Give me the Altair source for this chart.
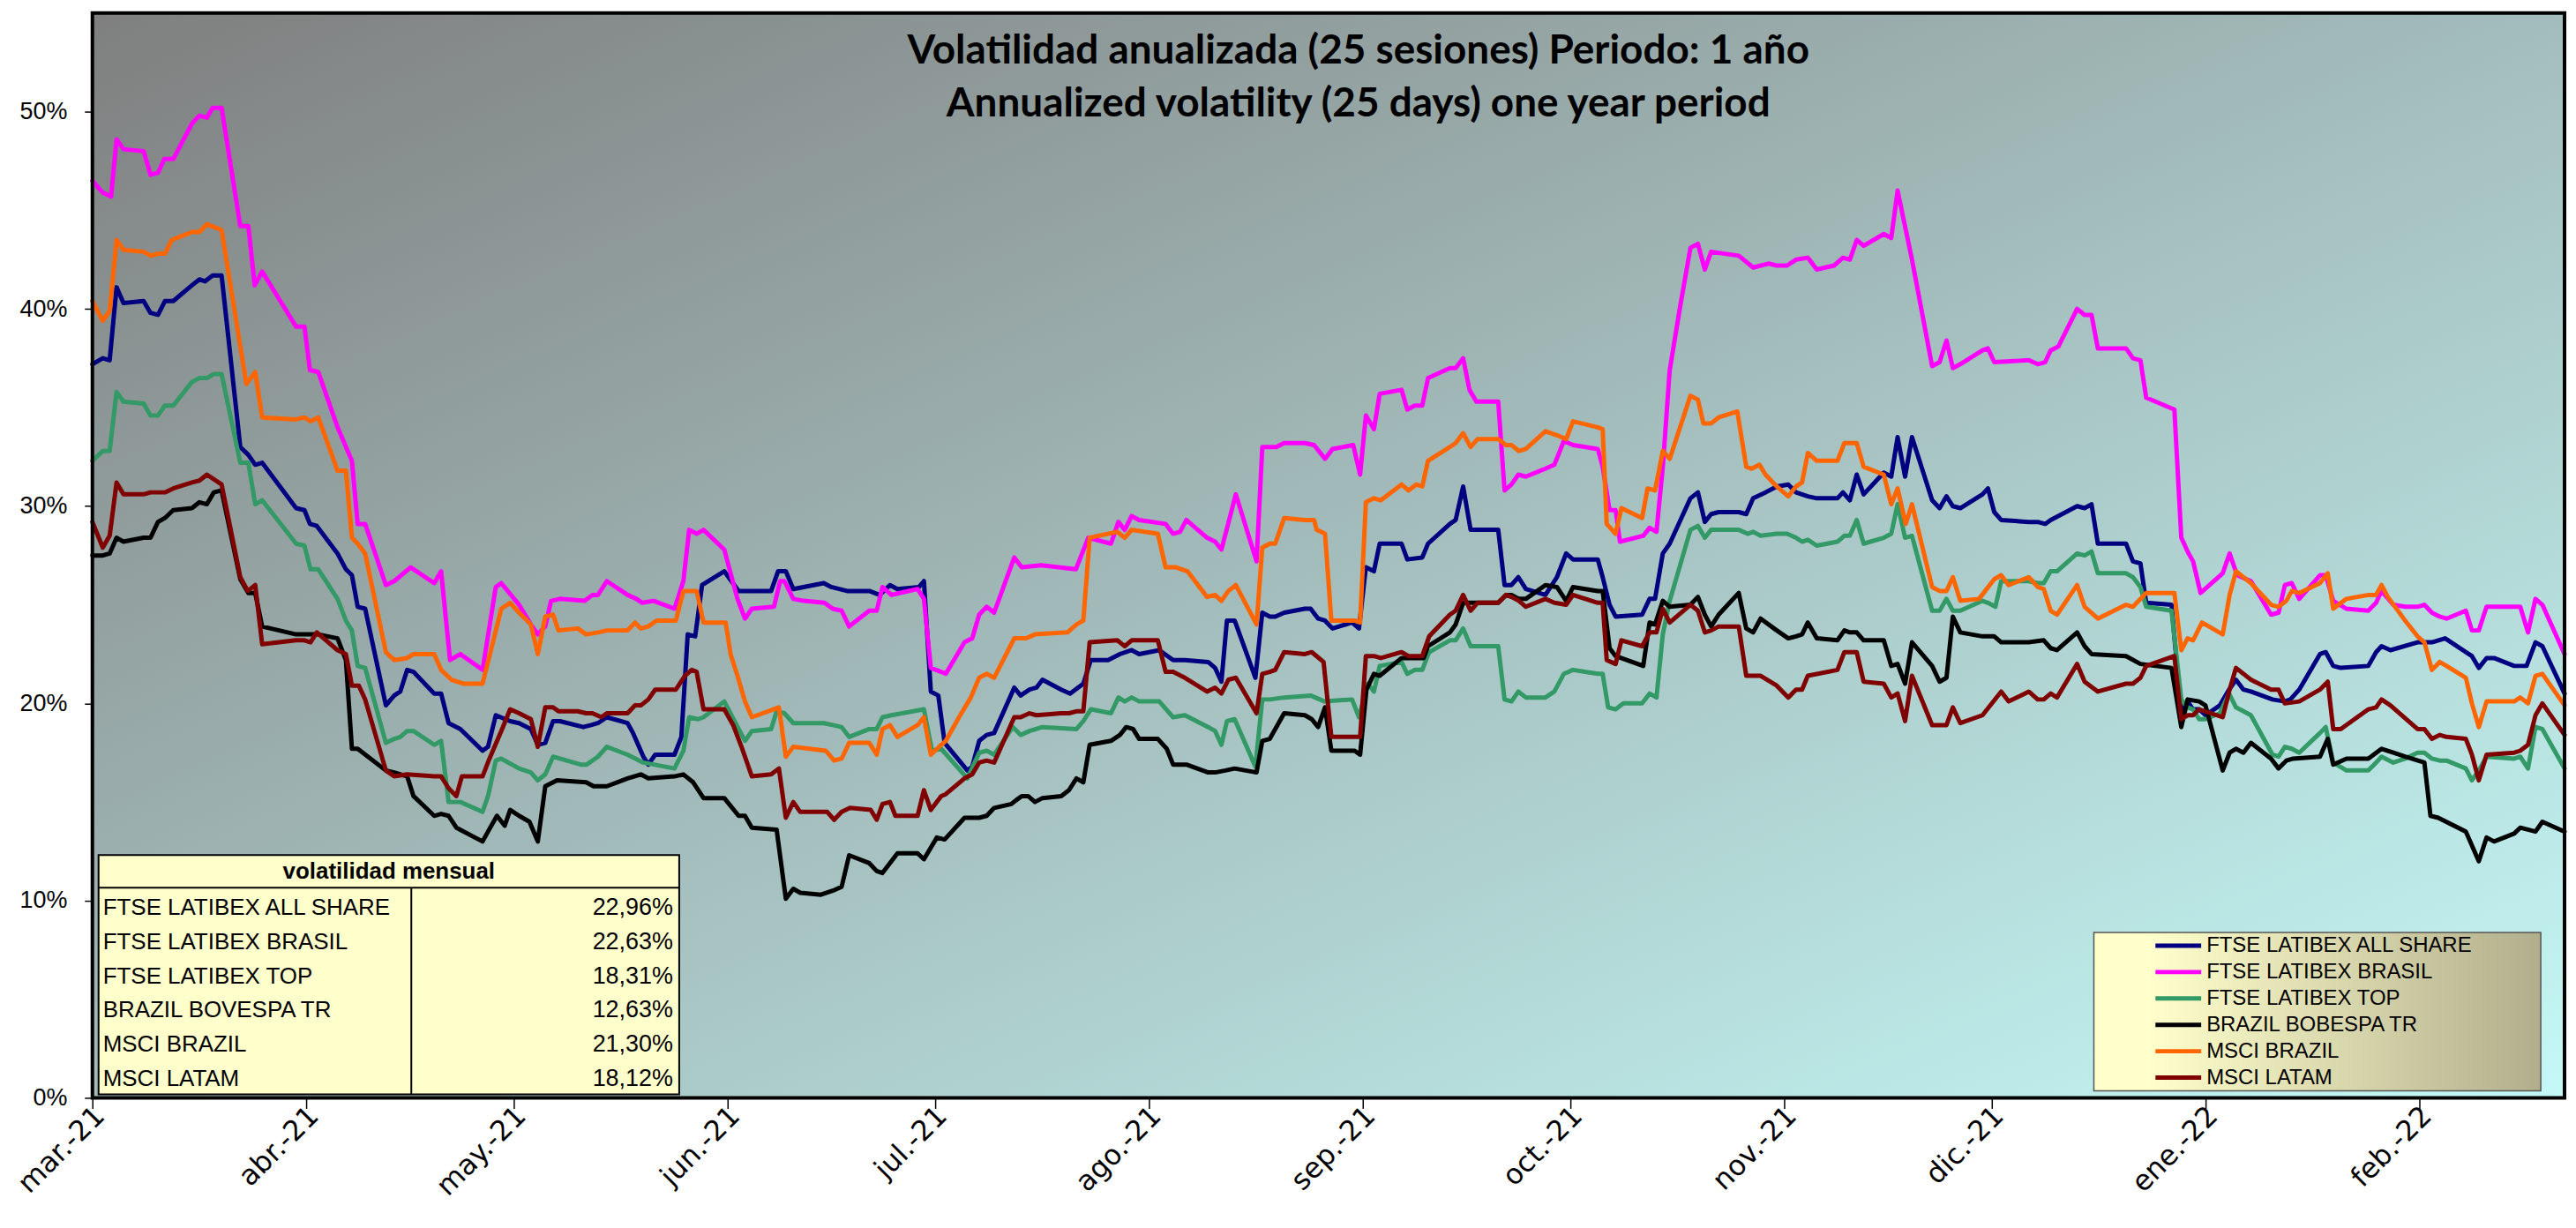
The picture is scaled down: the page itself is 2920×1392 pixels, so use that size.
import json
import altair as alt
import pandas as pd

# ---------------- data (day offset from 2021-03-01, annualized volatility %) ----------------
SERIES = ["FTSE LATIBEX ALL SHARE", "FTSE LATIBEX BRASIL", "FTSE LATIBEX TOP",
          "BRAZIL BOBESPA TR", "MSCI BRAZIL", "MSCI LATAM"]
COLORS = ["#000080", "#FF00FF", "#339966", "#000000", "#FF6600", "#800000"]

ALL_SHARE = [(0,37.2),(1.5,37.5),(2.5,37.4),(3.5,41.1),(4.5,40.3),(7.4,40.4),(8.4,39.8),(9.5,39.7),(10.5,40.4),(11.7,40.4),(14.4,41.2),(15.5,41.5),(16.3,41.4),(17.4,41.7),(18.7,41.7),(21.4,33.0),(22.6,32.6),(23.6,32.1),(24.6,32.2),(29.5,29.9),(30.7,29.8),(31.5,29.1),(32.5,29.0),(35.5,27.6),(36.7,26.8),(37.6,26.5),(38.4,24.9),(39.5,24.8),(42.5,19.9),(43.7,20.4),(44.6,20.6),(45.6,21.7),(46.5,21.6),(49.5,20.5),(50.5,20.5),(51.6,19.0),(53.3,18.7),(56.5,17.6),(57.3,17.8),(58.4,19.4),(60.5,19.1),(61.8,19.0),
 (63.5,18.7),(64.5,17.9),(65.6,18.0),(66.7,19.1),(67.7,19.1),(71.1,18.8),(72.2,18.9),(73.2,19.0),(74.5,19.3),(77.5,19.0),(78.3,18.5),(79.8,17.3),(80.5,16.9),(81.5,17.4),(84.3,17.4),(85.3,18.3),(86.2,23.5),(87.3,23.4),(88.3,26.0),(91.5,26.7),(93.6,25.7),(98.3,25.7),(99.3,26.7),(100.4,26.7),(101.5,25.8),(105.9,26.1),(107.0,25.9),(109.3,25.7),(112.5,25.7),(114.0,25.5),(115.5,26.0),(116.6,25.8),(119.7,25.9),(120.4,26.2),(121.4,20.6),(122.5,20.4),
 (123.4,18.0),(126.7,16.6),(127.4,16.8),(128.4,18.1),(129.5,18.4),(130.6,18.5),(133.5,20.8),(134.4,20.4),(135.7,20.7),(136.7,20.8),(137.6,21.2),(140.3,20.7),(141.6,20.5),(143.5,21.0),(144.6,22.2),(147.1,22.2),(148.8,22.5),(150.5,22.7),(151.6,22.5),(154.5,22.7),(156.5,22.2),(158.2,22.2),(161.6,22.1),(162.6,21.8),(163.5,21.1),(164.3,24.2),(165.4,24.2),(168.4,21.3),(169.4,24.6),(170.5,24.4),(171.3,24.4),(172.6,24.6),(175.6,24.8),(176.4,24.8),(177.5,24.3),(178.5,24.2),(179.6,23.8),(182.4,24.1),(183.4,23.8),
 (184.4,26.9),(185.6,26.7),(186.4,28.1),(189.6,28.1),(190.4,27.3),(192.6,27.4),(193.4,28.1),(196.6,29.1),(197.4,29.3),(198.5,31.0),(199.6,28.8),(203.6,28.8),(204.5,26.0),(205.5,26.0),(206.5,26.4),(207.6,25.8),(210.4,25.5),(212.1,26.4),(213.4,27.6),(214.4,27.3),(218.0,27.3),(218.7,26.4),(219.7,25.0),(220.6,24.4),(224.4,24.5),(225.5,25.3),(226.3,25.3),(227.4,27.6),(228.4,28.1),(231.4,30.4),(232.5,30.7),(233.5,29.2),(234.4,29.6),(235.5,29.7),(238.4,29.7),(239.5,29.6),(240.5,30.4),(242.3,30.7),
 (243.9,31.0),(245.6,31.1),(246.7,30.7),(248.4,30.5),(249.7,30.4),(252.7,30.4),(253.5,30.7),(254.5,30.3),(255.5,31.6),(256.5,30.6),(259.4,31.7),(260.5,31.5),(261.4,33.5),(262.5,31.5),(263.5,33.5),(266.4,30.3),(267.5,29.9),(268.5,30.5),(269.4,30.0),(270.5,29.9),(273.7,30.6),(274.5,30.9),(275.4,29.7),(276.4,29.3),(280.4,29.2),(281.7,29.2),(282.8,29.1),(283.6,29.3),(287.4,30.0),(288.5,29.9),(289.5,30.1),(290.4,28.1),(294.5,28.1),(295.5,27.2),(296.6,27.1),(297.4,25.1),(301.1,25.0),(302.5,19.5),(303.4,20.1),(304.2,19.7),
 (305.1,19.7),(306.0,19.4),(308.1,19.9),(309.4,20.7),(310.4,21.2),(311.5,20.7),(312.6,20.6),(315.7,20.2),(317.5,20.1),(318.3,20.2),(319.6,20.7),(322.6,22.5),(323.4,22.6),(324.5,21.9),(325.6,21.8),(329.6,21.9),(330.7,22.6),(331.5,22.9),(332.8,22.7),(336.7,23.1),(338.8,23.1),(340.7,23.3),(344.6,22.4),(345.6,21.8),(346.7,22.3),(347.8,22.3),(350.7,21.9),(352.5,21.9),(353.8,23.1),(354.8,22.9),(358.0,20.5)]

BRASIL = [(0,46.5),(1.5,45.9),(2.7,45.7),(3.5,48.6),(4.5,48.1),(7.4,48.0),(8.4,46.8),(9.5,46.9),(10.4,47.6),(11.7,47.6),(14.4,49.4),(15.5,49.8),(16.6,49.7),(17.4,50.2),(18.7,50.2),(21.4,44.2),(22.6,44.2),(23.5,41.2),(24.6,41.9),(29.5,39.1),(30.7,39.1),(31.5,36.9),(32.7,36.8),(35.5,34.0),(37.6,32.3),(38.4,29.1),(39.5,29.1),(42.5,26.0),(43.7,26.2),(46.1,26.9),(49.5,26.1),(50.5,26.7),(51.8,22.2),(53.3,22.5),(56.5,21.7),(58.4,25.9),(59.2,26.1),(61.8,25.0),
 (63.5,24.0),(64.5,23.5),(65.6,23.9),(66.4,25.2),(67.7,25.3),(71.3,25.2),(72.4,25.5),(73.2,25.5),(74.5,26.2),(77.5,25.5),(78.8,25.3),(79.6,25.1),(81.3,25.2),(84.3,24.8),(85.6,26.2),(86.4,28.8),(87.5,28.6),(88.5,28.8),(91.5,27.8),(93.4,25.3),(94.5,24.3),(95.5,24.8),(98.7,24.9),(99.6,26.2),(100.2,26.2),(101.5,25.3),(103.0,25.2),(106.0,25.1),(107.2,24.8),(108.5,24.7),(109.6,23.9),(112.5,24.7),(113.6,24.7),(114.4,25.9),(115.7,25.5),(119.5,25.8),(120.4,25.3),(121.4,21.8),(122.9,21.6),
 (123.6,21.5),(126.3,23.1),(127.4,23.3),(128.4,24.5),(129.5,24.9),(130.6,24.6),(133.5,27.4),(134.6,26.9),(137.4,27.0),(142.4,26.8),(144.2,28.4),(147.5,28.1),(148.6,29.2),(149.5,28.8),(150.5,29.5),(151.6,29.3),(155.4,29.1),(156.5,28.6),(157.5,28.7),(158.4,29.3),(161.4,28.4),(162.6,28.2),(163.5,27.8),(165.6,30.6),(168.6,27.2),(169.4,33.0),(171.4,33.0),(172.6,33.2),(175.6,33.2),(176.9,33.1),(178.5,32.4),(179.6,32.9),(182.6,33.1),
 (183.6,31.6),(184.4,34.6),(185.6,33.9),(186.4,35.7),(189.6,35.9),(190.4,34.9),(191.5,35.1),(192.6,35.1),(193.4,36.5),(196.6,37.0),(197.4,37.0),(198.5,37.5),(199.4,35.9),(200.4,35.3),(203.6,35.3),(204.5,30.8),(205.5,31.1),(206.5,31.6),(207.6,31.5),(210.4,31.9),(211.7,32.1),(213.1,33.3),(214.4,33.1),(218.0,32.9),(218.7,32.0),(219.7,29.8),(220.6,29.8),(221.2,28.2),(224.6,28.5),(225.5,28.9),(226.5,28.7),(227.4,32.0),(228.4,36.9),(229.9,40.1),(231.4,43.1),(232.5,43.3),(233.5,42.0),(234.4,42.9),(238.4,42.7),(240.5,42.1),(242.7,42.3),
 (243.9,42.2),(245.4,42.2),(246.7,42.5),(248.4,42.6),(249.7,42.0),(252.2,42.2),(253.5,42.6),(254.5,42.5),(255.5,43.5),(256.5,43.2),(259.4,43.8),(260.5,43.6),(261.4,46.0),(263.5,42.5),(266.4,37.1),(267.5,37.3),(268.5,38.4),(269.4,37.0),(270.5,37.2),(273.7,37.9),(274.5,38.0),(275.4,37.3),(280.4,37.4),(281.7,37.2),(282.8,37.3),(283.6,37.9),(284.7,38.1),(287.4,40.0),(288.5,39.7),(289.5,39.7),(290.4,38.0),(294.5,38.0),(295.5,37.5),(296.6,37.4),(297.4,35.5),(301.5,34.9),(302.5,28.4),(303.4,27.7),(304.2,27.2),(305.3,25.6),
 (308.5,26.6),(309.5,27.6),(310.6,26.5),(312.6,26.2),(315.5,24.5),(316.6,24.6),(317.5,26.0),(318.5,26.1),(319.6,25.3),(322.6,26.5),(323.4,26.5),(324.5,25.2),(326.4,24.8),(329.6,24.7),(330.7,25.1),(331.5,25.7),(333.2,25.0),(334.9,24.9),(336.7,24.9),(337.7,25.0),(338.8,24.6),(339.9,24.4),(340.9,24.3),(343.7,24.7),(344.6,23.7),(345.6,23.7),(346.7,24.9),(351.6,24.9),(352.7,23.6),(353.8,25.3),(354.8,25.0),(358.0,22.5)]

TOP = [(0,32.3),(1.5,32.8),(2.5,32.8),(3.5,35.8),(4.5,35.3),(7.4,35.2),(8.4,34.6),(9.5,34.6),(10.5,35.1),(11.7,35.1),(14.4,36.3),(15.5,36.5),(16.6,36.5),(17.6,36.7),(18.7,36.7),(21.4,32.2),(22.6,32.2),(23.6,30.1),(24.6,30.3),(29.5,28.1),(30.7,28.0),(31.6,26.8),(32.7,26.8),(35.5,25.3),(36.7,24.2),(37.6,23.7),(38.4,21.9),(39.5,21.8),(42.5,18.0),(43.7,18.2),(44.6,18.3),(45.6,18.6),(46.5,18.6),(49.5,17.9),(50.5,18.1),(51.6,15.0),(53.3,15.0),(56.5,14.5),(57.3,15.3),(58.4,17.1),(59.2,17.2),(61.8,16.7),
 (63.5,16.5),(64.5,16.1),(65.6,16.4),(66.7,17.3),(70.7,16.9),(71.6,16.9),(73.2,17.3),(74.5,17.8),(77.5,17.4),(79.8,17.0),(84.3,16.7),(85.6,17.6),(86.4,19.3),(87.7,19.2),(88.5,19.3),(91.5,20.1),(94.5,18.1),(95.5,18.6),(98.3,18.7),(99.1,19.6),(100.2,19.5),(101.5,19.0),(105.9,19.0),(107.2,18.9),(108.5,18.8),(109.6,18.3),(112.5,18.7),(113.6,18.7),(114.4,19.3),(115.7,19.4),(120.4,19.7),(121.6,17.6),(122.9,17.7),
 (126.7,16.2),(128.4,17.5),(129.5,17.6),(130.6,17.4),(133.3,18.8),(134.4,18.4),(135.7,18.6),(137.6,18.8),(142.5,18.7),(143.5,19.1),(144.6,19.7),(147.5,19.5),(148.6,20.3),(149.5,20.1),(150.5,20.3),(151.6,20.1),(154.5,20.1),(156.5,19.3),(158.2,19.4),(161.6,18.8),(162.6,18.6),(163.5,17.9),(164.3,19.1),(165.4,19.2),(168.4,16.8),(169.4,20.2),(170.5,20.2),(172.6,20.3),(176.4,20.4),(178.4,20.1),(182.4,20.2),(183.4,19.3),
 (184.7,21.0),(185.6,20.6),(186.4,21.9),(189.6,22.1),(190.4,21.5),(191.5,21.7),(192.6,21.7),(193.6,22.6),(196.6,23.2),(197.4,23.2),(198.5,23.8),(199.6,22.9),(203.6,22.9),(204.5,20.2),(205.5,20.1),(206.5,20.6),(207.6,20.3),(210.4,20.3),(211.7,20.6),(213.1,21.5),(214.4,21.7),(218.0,21.5),(218.7,21.5),(219.5,19.8),(220.6,19.7),(221.7,20.0),(224.4,20.0),(225.5,20.5),(226.5,20.3),(227.4,23.5),(228.4,25.2),(231.4,28.8),(232.5,29.0),(233.5,28.4),(234.4,28.8),(238.4,28.8),(239.7,28.6),(240.5,28.7),(241.6,28.5),
 (243.9,28.6),(245.4,28.6),(246.7,28.4),(247.6,28.2),(248.4,28.3),(249.7,28.0),(252.7,28.2),(253.7,28.5),(254.5,28.5),(255.5,29.3),(256.5,28.1),(259.4,28.4),(260.5,28.6),(261.4,30.1),(262.5,28.4),(263.5,28.5),(266.4,24.7),(267.5,24.7),(268.5,25.3),(269.4,24.7),(270.5,24.7),(273.7,25.2),(274.5,25.1),(275.6,24.9),(276.4,26.2),(280.4,26.2),(281.7,26.1),(282.6,26.1),(283.6,26.7),(284.5,26.7),(287.4,27.6),(288.5,27.5),(289.5,27.7),(290.4,26.6),(294.5,26.6),(295.5,26.4),(296.6,25.9),(297.4,24.9),(301.1,24.7),(302.5,20.2),(303.4,19.8),(304.2,19.7),
 (305.1,19.2),(306.0,19.2),(308.1,19.5),(309.4,20.5),(310.4,19.8),(312.6,19.4),(315.7,17.4),(316.6,17.3),(317.5,17.8),(318.5,17.7),(319.6,17.5),(322.6,18.5),(323.4,18.8),(324.5,17.0),(326.4,16.6),(329.6,16.6),(330.7,17.0),(331.5,17.3),(333.2,17.0),(334.9,17.2),(336.7,17.5),(337.7,17.5),(338.8,17.2),(339.9,17.1),(340.9,17.1),(343.7,16.7),(344.6,16.1),(345.6,16.6),(346.7,17.3),(350.7,17.2),(351.6,17.3),(352.7,16.7),(353.8,18.8),(354.8,18.7),(358.0,16.7)]

BOVESPA = [(0,27.5),(1.5,27.5),(2.5,27.6),(3.5,28.4),(4.5,28.2),(7.4,28.4),(8.4,28.4),(9.5,29.2),(10.5,29.4),(11.7,29.8),(14.4,29.9),(15.5,30.2),(16.6,30.1),(17.6,30.7),(18.7,30.8),(21.4,26.3),(22.6,25.6),(23.6,25.6),(24.6,23.9),(29.5,23.5),(30.7,23.5),(31.6,23.5),(32.7,23.5),(35.5,23.3),(36.7,22.2),(37.6,17.7),(38.4,17.7),(42.5,16.6),(43.7,16.5),(45.6,16.3),(46.5,15.3),(49.5,14.3),(50.5,14.4),(51.6,14.3),(52.7,13.7),(56.5,13.0),(57.3,13.5),(58.6,14.3),(59.7,13.8),(60.5,14.6),(61.8,14.3),
 (63.3,14.0),(64.5,13.0),(65.6,15.8),(67.3,16.1),(71.5,16.0),(72.6,15.8),(74.5,15.8),(77.5,16.2),(79.4,16.4),(80.5,16.2),(84.3,16.3),(85.6,16.4),(87.0,16.0),(88.5,15.2),(91.5,15.2),(93.6,14.3),(94.5,14.3),(95.5,13.7),(99.1,13.6),(100.4,10.1),(101.5,10.6),(102.5,10.4),(105.5,10.3),(107.2,10.5),(108.5,10.7),(109.6,12.3),(112.5,11.9),(113.6,11.5),(114.4,11.4),(116.6,12.4),(119.5,12.4),(120.4,12.1),(122.3,13.2),
 (123.4,13.1),(126.3,14.2),(128.4,14.2),(129.5,14.3),(130.6,14.7),(133.1,14.9),(133.8,15.1),(134.6,15.3),(135.5,15.3),(136.5,15.0),(137.6,15.2),(140.3,15.3),(141.4,15.6),(142.5,16.2),(143.5,16.0),(144.4,17.9),(147.5,18.1),(148.8,18.4),(149.7,18.8),(150.7,18.7),(151.6,18.2),(154.3,18.2),(155.6,17.7),(156.5,16.9),(157.3,16.9),(158.4,16.9),(161.6,16.5),(162.6,16.5),(164.1,16.6),(165.4,16.7),(168.6,16.5),(169.4,18.1),(170.5,18.2),(172.6,19.5),(175.6,19.4),(176.6,19.2),(177.5,18.8),(178.5,19.8),(179.4,17.6),(182.8,17.6),(183.6,17.4),
 (184.5,20.7),(185.6,21.5),(186.4,21.4),(189.6,22.3),(192.8,22.3),(193.4,22.9),(196.6,23.6),(197.4,24.0),(198.5,25.1),(203.6,25.1),(204.7,25.5),(205.5,25.5),(206.6,25.3),(207.6,25.3),(210.4,26.0),(212.1,25.9),(213.4,25.2),(214.4,25.9),(218.0,25.7),(218.7,25.7),(219.7,22.8),(220.6,22.4),(224.6,21.9),(225.5,24.1),(226.3,24.0),(227.4,25.2),(228.4,24.9),(231.4,25.0),(232.5,25.4),(233.5,24.5),(234.4,23.9),(235.5,24.5),(238.4,25.6),(239.5,23.8),(240.5,23.6),(241.6,24.3),
 (243.9,23.7),(245.6,23.3),(246.7,23.4),(247.6,23.5),(248.4,24.1),(249.7,23.3),(252.7,23.2),(253.7,23.7),(254.5,23.6),(255.5,23.6),(256.5,23.2),(259.4,23.2),(260.5,21.9),(261.4,22.0),(262.5,21.0),(263.5,23.1),(266.4,21.9),(267.5,21.1),(268.5,21.3),(269.4,24.4),(270.5,23.6),(273.7,23.4),(275.4,23.4),(276.4,23.1),(280.4,23.1),(282.6,23.2),(283.6,22.8),(284.5,22.7),(287.4,23.6),(288.5,22.9),(289.5,22.5),(294.5,22.4),(296.6,22.0),(301.1,21.8),(302.5,18.8),(303.4,20.2),
 (305.1,20.1),(306.0,19.9),(308.5,16.6),(309.5,17.5),(310.4,17.7),(311.5,17.5),(312.6,18.0),(315.5,17.2),(316.6,16.7),(317.7,17.1),(318.7,17.2),(322.6,17.3),(323.7,18.2),(324.5,16.9),(326.4,17.2),(329.6,17.2),(331.5,17.7),(333.2,17.5),(334.9,17.3),(337.7,17.0),(338.6,14.3),(339.7,14.2),(343.7,13.5),(345.6,12.0),(346.7,13.2),(347.8,13.0),(350.7,13.4),(351.6,13.7),(353.8,13.5),(354.8,14.0),(358.0,13.5)]

MSCI_BRAZIL = [(0,40.4),(1.5,39.4),(2.5,39.9),(3.5,43.5),(4.5,43.0),(7.4,42.9),(8.4,42.7),(9.5,42.8),(10.5,42.8),(11.5,43.5),(14.4,43.9),(15.5,43.9),(16.6,44.3),(18.7,44.0),(22.3,36.2),(23.6,36.8),(24.6,34.5),(29.5,34.4),(30.7,34.5),(31.6,34.3),(32.7,34.5),(35.5,31.8),(36.7,31.8),(37.6,28.4),(38.4,28.1),(39.5,27.6),(42.5,22.6),(43.7,22.2),(45.6,22.3),(46.5,22.5),(49.5,22.5),(50.5,21.7),(52.0,21.2),(53.7,21.0),(56.5,21.0),(57.5,22.4),(59.2,24.8),(60.5,25.1),(61.8,24.6),
 (63.5,24.0),(64.5,22.5),(65.6,24.4),(66.7,24.5),(67.5,23.7),(70.3,23.8),(71.5,23.5),(73.2,23.6),(74.5,23.7),(77.5,23.7),(78.6,24.1),(79.4,23.8),(80.5,23.9),(81.7,24.2),(84.5,24.2),(85.6,25.7),(87.5,25.7),(88.5,24.1),(91.7,24.1),(92.4,22.5),(93.4,21.4),(94.5,20.1),(95.5,19.3),(99.4,19.8),(100.4,17.3),(101.5,17.8),(106.2,17.6),(107.4,17.1),(108.5,17.2),(109.6,18.0),(112.5,18.0),(113.6,17.4),(114.4,18.7),(115.5,18.9),(116.6,18.3),(119.5,18.9),(120.4,19.3),(121.4,17.4),(122.9,17.9),
 (123.6,18.1),(125.5,19.3),(127.2,20.3),(128.4,21.3),(129.5,21.5),(130.6,21.3),(133.5,23.3),(135.2,23.3),(136.5,23.5),(141.2,23.6),(142.5,24.0),(143.5,24.2),(144.4,28.4),(148.4,28.7),(149.5,28.4),(150.5,28.8),(154.3,28.6),(155.4,26.9),(156.9,26.9),(158.6,26.7),(161.4,25.4),(162.6,25.5),(163.5,25.2),(164.5,25.7),(165.6,26.0),(168.6,24.0),(169.4,27.9),(170.5,28.1),(171.3,28.1),(172.6,29.4),(175.6,29.3),(176.9,29.3),(177.3,28.8),(178.5,28.6),(179.4,24.2),(182.8,24.2),(183.6,24.1),
 (184.4,30.2),(185.6,30.4),(186.6,30.3),(189.6,31.1),(190.6,30.8),(191.7,31.1),(192.6,31.0),(193.4,32.3),(196.6,33.0),(197.4,33.2),(198.5,33.7),(199.6,33.0),(200.6,33.4),(203.6,33.4),(204.7,33.1),(205.5,33.1),(206.6,32.8),(207.6,32.9),(210.4,33.8),(212.1,33.6),(213.4,33.4),(214.4,34.3),(218.0,34.0),(218.7,33.9),(219.3,29.1),(220.6,28.6),(221.4,29.9),(224.4,29.4),(225.2,30.9),(226.3,30.8),(227.4,32.8),(228.4,32.4),(231.4,35.6),(232.5,35.4),(233.3,34.2),(234.4,34.2),(235.5,34.5),(238.2,34.8),(239.5,32.0),(240.3,31.9),(241.4,32.1),(242.3,31.6),
 (243.9,31.0),(245.6,30.5),(246.7,31.0),(247.6,31.2),(248.4,32.7),(249.7,32.3),(252.7,32.3),(253.7,33.2),(255.5,33.2),(256.5,32.0),(259.4,31.6),(260.5,30.1),(261.4,30.9),(262.6,29.1),(263.5,30.1),(266.4,25.9),(267.5,25.7),(268.5,25.7),(269.4,26.4),(270.5,25.2),(273.2,25.3),(275.4,26.3),(276.4,26.5),(277.5,26.0),(280.4,26.4),(281.7,25.9),(282.6,25.8),(283.6,24.7),(284.5,24.5),(287.4,26.0),(288.5,24.9),(290.4,24.3),(294.5,25.0),(295.5,24.9),(297.4,25.6),(301.5,25.6),(302.5,22.7),(303.4,23.3),(304.2,23.2),
 (305.5,24.1),(308.5,23.5),(309.5,25.5),(310.4,26.7),(312.6,26.1),(315.5,25.0),(316.6,24.9),(317.7,25.2),(318.5,25.7),(319.6,25.6),(322.6,26.1),(323.7,26.6),(324.5,24.8),(326.4,25.3),(329.6,25.5),(330.7,25.5),(331.5,26.0),(332.4,25.4),(334.9,24.2),(336.7,23.4),(337.7,23.1),(338.8,21.7),(339.9,22.1),(340.9,21.9),(343.7,21.3),(344.6,20.0),(345.6,18.8),(346.7,20.1),(350.7,20.1),(351.6,20.3),(352.7,20.0),(353.8,21.4),(354.8,21.5),(358.0,19.9)]

MSCI_LATAM = [(0,29.2),(1.5,27.9),(2.5,28.5),(3.5,31.2),(4.5,30.6),(7.4,30.6),(8.4,30.7),(10.5,30.7),(11.7,30.9),(14.4,31.2),(15.5,31.3),(16.6,31.6),(18.7,31.1),(21.4,26.4),(22.5,25.7),(23.6,26.0),(24.6,23.0),(29.5,23.2),(30.7,23.2),(31.6,23.1),(32.5,23.6),(35.5,22.7),(36.7,22.5),(37.6,20.9),(38.6,20.9),(39.5,20.2),(42.5,16.6),(43.7,16.3),(45.6,16.4),(49.5,16.3),(50.5,16.3),(51.6,15.7),(52.7,15.3),(53.5,16.3),(56.5,16.3),(57.5,17.2),(59.2,18.6),(60.5,19.7),(61.8,19.5),
 (63.5,19.2),(64.5,17.8),(65.6,19.8),(66.7,19.8),(67.5,19.6),(70.3,19.6),(71.5,19.5),(72.4,19.5),(73.7,19.3),(74.5,19.5),(77.5,19.5),(78.6,19.9),(79.4,19.9),(80.5,20.2),(81.5,20.7),(84.5,20.7),(85.8,21.4),(86.8,21.7),(87.5,21.6),(88.5,19.7),(91.5,19.7),(92.8,18.9),(94.0,17.8),(95.5,16.3),(98.3,16.4),(99.4,16.7),(100.4,14.2),(101.5,15.0),(102.5,14.5),(106.4,14.5),(107.4,14.1),(108.5,14.5),(109.7,14.7),(112.7,14.6),(113.6,14.1),(114.4,14.9),(115.5,15.0),(116.3,14.3),(119.5,14.3),(120.4,15.6),(121.4,14.6),(122.9,15.3),
 (123.6,15.4),(126.3,16.2),(127.4,16.4),(128.4,17.0),(129.5,17.1),(130.6,17.0),(133.5,19.3),(134.4,19.3),(135.7,19.5),(136.7,19.4),(140.3,19.5),(141.4,19.5),(142.5,19.6),(143.5,19.6),(144.4,23.1),(148.4,23.2),(149.5,22.9),(150.5,23.2),(154.3,23.2),(155.4,21.6),(156.5,21.6),(158.2,21.3),(161.4,20.6),(162.6,20.8),(163.5,20.5),(164.5,21.2),(165.6,21.3),(168.6,19.5),(169.4,21.5),(170.5,21.6),(171.3,21.7),(172.6,22.6),(175.6,22.5),(176.6,22.6),(178.3,22.1),(179.4,18.3),(183.6,18.3),
 (184.4,22.4),(185.6,22.4),(186.6,22.3),(189.6,22.6),(190.6,22.4),(192.6,22.4),(193.6,23.4),(196.6,24.5),(197.4,24.7),(198.5,25.5),(199.6,24.7),(200.6,25.1),(203.6,25.1),(204.7,25.5),(205.5,25.4),(206.6,25.2),(207.6,24.9),(210.4,25.3),(211.7,25.1),(213.4,25.0),(214.4,25.5),(218.0,25.1),(218.7,25.1),(219.3,22.2),(220.6,22.0),(221.4,23.2),(224.4,22.9),(225.5,23.6),(226.5,23.6),(227.4,24.8),(228.4,24.1),(231.4,25.0),(232.5,24.7),(233.5,23.6),(234.4,23.7),(235.5,23.9),(238.4,23.9),(239.5,21.4),(241.6,21.4),
 (243.9,20.9),(245.6,20.3),(246.7,20.7),(247.6,20.7),(248.4,21.4),(252.7,21.7),(253.7,22.6),(255.5,22.6),(256.5,21.1),(259.4,21.0),(260.5,20.3),(261.4,20.5),(262.5,19.1),(263.5,21.4),(266.4,18.9),(268.5,18.9),(269.4,19.8),(270.5,19.0),(273.7,19.4),(276.4,20.6),(277.5,20.1),(280.4,20.6),(281.7,20.2),(282.6,20.2),(283.6,20.5),(284.5,20.3),(287.4,22.0),(288.5,21.1),(290.4,20.6),(294.5,21.0),(295.5,21.0),(296.6,21.3),(297.4,21.9),(301.5,22.4),(302.5,19.2),(303.4,19.4),(304.2,19.4),
 (305.1,19.7),(308.5,19.3),(309.5,20.7),(310.4,21.8),(312.6,21.2),(315.5,20.7),(316.6,20.7),(317.5,20.0),(319.6,20.1),(322.6,20.7),(323.7,21.1),(324.5,18.7),(325.6,18.7),(329.6,19.7),(330.7,19.8),(331.5,20.2),(332.8,19.9),(336.7,18.7),(337.7,18.7),(338.8,18.2),(339.9,18.4),(340.9,18.3),(343.7,18.2),(344.6,17.4),(345.6,16.1),(346.7,17.4),(350.7,17.5),(351.6,17.6),(352.7,17.9),(353.8,19.4),(354.8,20.0),(358.0,18.4)]

TABLE_TITLE = "volatilidad mensual"
TABLE_NAMES = ["FTSE LATIBEX ALL SHARE", "FTSE LATIBEX BRASIL", "FTSE LATIBEX TOP",
               "BRAZIL BOVESPA TR", "MSCI BRAZIL", "MSCI LATAM"]
TABLE_VALUES = ["22,96%", "22,63%", "18,31%", "12,63%", "21,30%", "18,12%"]

TITLE_1 = "Volatilidad anualizada (25 sesiones) Periodo: 1 año"
TITLE_2 = "Annualized volatility (25 days) one year period"

MONTH_ABBR = ["ene", "feb", "mar", "abr", "may", "jun", "jul", "ago", "sep", "oct", "nov", "dic"]
TICK_MONTHS = [(2021, m) for m in range(3, 13)] + [(2022, 1), (2022, 2)]
Y_TICKS = [0, 0.1, 0.2, 0.3, 0.4, 0.5]

# ---------------- build tables ----------------
START = pd.Timestamp("2021-03-01")
records = []
for name, pts in zip(SERIES, [ALL_SHARE, BRASIL, TOP, BOVESPA, MSCI_BRAZIL, MSCI_LATAM]):
    for d, v in pts:
        t = START + pd.Timedelta(hours=round(d * 24))
        records.append({"series": name, "date": t.strftime("%Y-%m-%dT%H:%M:%SZ"), "vol": v / 100.0})
df = pd.DataFrame(records)

W, H = 2810, 1233
FONT = "Liberation Sans"
one = alt.Data(values=[{"k": 0}])

color_scale = alt.Scale(domain=SERIES, range=COLORS)
label_expr = json.dumps(MONTH_ABBR) + "[utcmonth(datum.value)] + '.-' + utcFormat(datum.value, '%y')"

x_enc = alt.X(
    "date:T",
    scale=alt.Scale(type="utc",
                    domain=[alt.DateTime(year=2021, month=3, date=1, utc=True),
                            alt.DateTime(year=2022, month=2, date=22, utc=True)]),
    axis=alt.Axis(values=[alt.DateTime(year=y, month=m, date=1, utc=True) for y, m in TICK_MONTHS],
                  labelExpr=label_expr, labelAngle=-45, labelAlign="right", labelBaseline="middle",
                  labelFont="DejaVu Sans", labelFontSize=32, labelColor="black", labelPadding=3,
                  labelOffset=8,
                  tickSize=12, tickColor="black", tickWidth=1.5, domain=False, grid=False, title=None),
)
y_enc = alt.Y(
    "vol:Q",
    scale=alt.Scale(domain=[0, 0.55], nice=False),
    axis=alt.Axis(values=Y_TICKS, format=".0%", labelFont=FONT, labelFontSize=27, labelColor="black",
                  labelPadding=20, tickSize=9, tickColor="black", tickWidth=1.5,
                  domain=False, grid=False, title=None),
)

# background gradient of the plot area
bg = alt.Chart(one).mark_rect(
    color=alt.LinearGradient(gradient="linear", x1=0, y1=0, x2=1, y2=1,
                             stops=[alt.GradientStop(offset=0, color="#7F7F7F"),
                                    alt.GradientStop(offset=0.5, color="#A3BDBC"),
                                    alt.GradientStop(offset=1, color="#C4F8F6")])
).encode(x=alt.value(0), x2=alt.value(W), y=alt.value(0), y2=alt.value(H))

layers = [bg]

# lines, drawn in series order
for name in SERIES:
    layers.append(
        alt.Chart(df).transform_filter(alt.datum.series == name)
        .mark_line(strokeWidth=5, strokeJoin="round", strokeCap="round")
        .encode(x=x_enc, y=y_enc,
                color=alt.Color("series:N", scale=color_scale, legend=None))
    )

# ---- monthly volatility table ----
TX0, TX1, TY0, TY1 = 7, 667, 957, 1229
THEAD = 994
TCOL = 362.5
tdf = pd.DataFrame({"name": TABLE_NAMES, "val": TABLE_VALUES, "row": list(range(len(TABLE_NAMES)))})
tbase = alt.Chart(tdf).transform_calculate(ypix="1017 + datum.row * 38.9")
layers += [
    alt.Chart(one).mark_rect(fill="#FFFFCC", stroke="black", strokeWidth=2)
    .encode(x=alt.value(TX0), x2=alt.value(TX1), y=alt.value(TY0), y2=alt.value(TY1)),
    alt.Chart(one).mark_rule(color="black", strokeWidth=2)
    .encode(x=alt.value(TX0), x2=alt.value(TX1), y=alt.value(THEAD)),
    alt.Chart(one).mark_rule(color="black", strokeWidth=2)
    .encode(x=alt.value(TCOL), y=alt.value(THEAD), y2=alt.value(TY1)),
    alt.Chart(one).mark_text(text=TABLE_TITLE, font=FONT, fontSize=26, fontWeight="bold",
                             align="center", baseline="middle", color="black")
    .encode(x=alt.value((TX0 + TX1) / 2), y=alt.value(976)),
    tbase.mark_text(font=FONT, fontSize=26, align="left", baseline="middle", color="black")
    .encode(x=alt.value(12), y=alt.Y("ypix:Q", scale=None, axis=None), text="name:N"),
    tbase.mark_text(font=FONT, fontSize=27, align="right", baseline="middle", color="black")
    .encode(x=alt.value(660), y=alt.Y("ypix:Q", scale=None, axis=None), text="val:N"),
]

# ---- legend ----
LX0, LX1, LY0, LY1 = 2275, 2783, 1045, 1225
ldf = pd.DataFrame({"series": SERIES, "row": list(range(len(SERIES)))})
lbase = alt.Chart(ldf).transform_calculate(ypix="1060 + datum.row * 30")
layers += [
    alt.Chart(one).mark_rect(
        color=alt.LinearGradient(gradient="linear", x1=0, y1=0, x2=1, y2=0,
                                 stops=[alt.GradientStop(offset=0, color="#FFFFCC"),
                                        alt.GradientStop(offset=0.12, color="#FFFFCC"),
                                        alt.GradientStop(offset=1, color="#B1AE8C")]),
        stroke="#555555", strokeWidth=1.5)
    .encode(x=alt.value(LX0), x2=alt.value(LX1), y=alt.value(LY0), y2=alt.value(LY1)),
    lbase.mark_rule(strokeWidth=5)
    .encode(x=alt.value(2345), x2=alt.value(2397), y=alt.Y("ypix:Q", scale=None, axis=None),
            color=alt.Color("series:N", scale=color_scale, legend=None)),
    lbase.mark_text(font=FONT, fontSize=24, align="left", baseline="middle", color="black")
    .encode(x=alt.value(2403), y=alt.Y("ypix:Q", scale=None, axis=None), text="series:N"),
]

# ---- title inside the plot ----
layers += [
    alt.Chart(one).mark_text(text=TITLE_1, font="Lato", fontSize=46, fontWeight="bold",
                             align="center", baseline="alphabetic", color="black")
    .encode(x=alt.value(1439), y=alt.value(57)),
    alt.Chart(one).mark_text(text=TITLE_2, font="Lato", fontSize=46, fontWeight="bold",
                             align="center", baseline="alphabetic", color="black")
    .encode(x=alt.value(1439), y=alt.value(117)),
]

# ---- plot border ----
layers.append(
    alt.Chart(one).mark_rect(fillOpacity=0, stroke="black", strokeWidth=4)
    .encode(x=alt.value(0), x2=alt.value(W), y=alt.value(0), y2=alt.value(H))
)

chart = alt.layer(*layers).properties(
    width=W, height=H,
    padding={"left": 97, "top": 5, "right": 5, "bottom": 130},
    autosize=alt.AutoSizeParams(type="none"),
    background="white",
).configure_view(stroke=None)

chart.save("out.html", embed_options={"renderer": "svg", "actions": False})
